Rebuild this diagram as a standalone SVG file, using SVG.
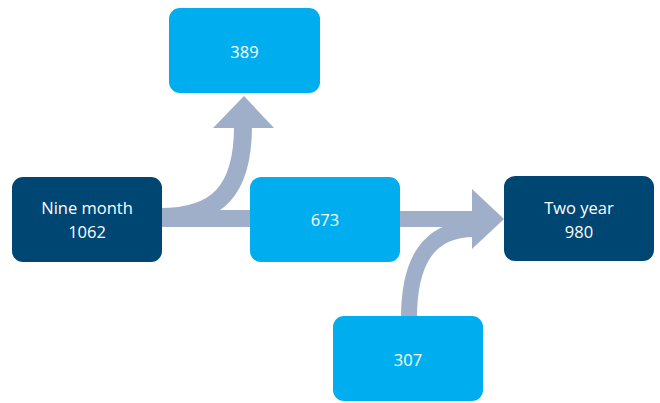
<svg xmlns="http://www.w3.org/2000/svg" width="660" height="403" viewBox="0 0 660 403">
<style>
.dark{fill:#004672}
.light{fill:#00AEEF}
.arrow{fill:#9FAFC9}
.band{fill:none;stroke:#9FAFC9}
text{font-family:"Open Sans","Liberation Sans",sans-serif;font-size:16.5px;fill:#ffffff;text-anchor:middle}
</style>
<rect width="660" height="403" fill="#ffffff"/>
<g id="connectors">
<rect class="arrow" x="160" y="210" width="92" height="17"/>
<path class="band" stroke-width="18" d="M160 217 C 218 217, 243 190, 243 126"/>
<polygon class="arrow" points="213,128 274,128 244,96"/>
<rect class="arrow" x="398" y="211" width="76" height="16"/>
<path class="band" stroke-width="16" d="M409 318 C 409 262, 428 229, 474 229"/>
<polygon class="arrow" points="472,189 504,219 472,249"/>
</g>
<g id="n389"><rect class="light" x="169" y="8" width="151" height="85" rx="11"/><text x="244.5" y="58">389</text></g>
<g id="nine"><rect class="dark" x="12" y="177" width="150" height="85" rx="11"/><text x="87" y="214">Nine month</text><text x="87" y="238">1062</text></g>
<g id="n673"><rect class="light" x="250" y="177" width="150" height="85" rx="11"/><text x="325" y="226">673</text></g>
<g id="two"><rect class="dark" x="504" y="176" width="150" height="85" rx="11"/><text x="579" y="214">Two year</text><text x="579" y="238">980</text></g>
<g id="n307"><rect class="light" x="333" y="316" width="150" height="85" rx="11"/><text x="408" y="366">307</text></g>
</svg>
